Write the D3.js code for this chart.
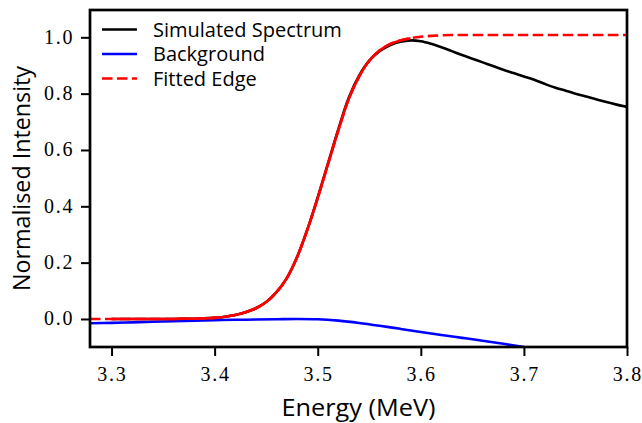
<!DOCTYPE html>
<html><head><meta charset="utf-8">
<script src="https://cdn.jsdelivr.net/npm/d3@7"></script>
<style>body{margin:0;background:#fff}</style>
</head><body><svg id="c" width="642" height="423"></svg>
<script>
// ---- data ----
const edgeE = [3.279,3.29,3.30,3.31,3.32,3.33,3.34,3.35,3.36,3.37,3.38,3.39,3.40,3.41,3.42,3.43,3.44,3.45,3.46,3.47,3.48,3.49,3.50,3.51,3.52,3.53,3.54,3.55,3.56,3.57,3.58,3.59,3.60,3.61,3.62,3.63,3.65,3.70,3.75,3.80];
const edgeV = [0.000,0.000,0.000,0.000,0.000,0.000,0.000,0.000,0.000,0.001,0.001,0.002,0.004,0.008,0.014,0.024,0.038,0.060,0.095,0.145,0.220,0.318,0.430,0.550,0.670,0.780,0.860,0.917,0.953,0.976,0.989,0.997,1.002,1.005,1.007,1.008,1.008,1.008,1.008,1.008];
const fitRange = [3.30, 3.59];
const specE = [3.30,3.31,3.32,3.33,3.34,3.35,3.36,3.37,3.38,3.39,3.40,3.41,3.42,3.43,3.44,3.45,3.46,3.47,3.48,3.49,3.50,3.51,3.52,3.53,3.54,3.55,3.56,3.57,3.58,3.59,3.60,3.61,3.62,3.63,3.64,3.65,3.66,3.67,3.68,3.69,3.70,3.71,3.72,3.73,3.74,3.75,3.76,3.77,3.78,3.79,3.80];
const specV = [0.000,0.000,0.000,0.000,0.000,0.000,0.000,0.001,0.001,0.002,0.004,0.008,0.014,0.024,0.038,0.060,0.095,0.145,0.220,0.318,0.432,0.553,0.674,0.785,0.863,0.917,0.951,0.972,0.984,0.989,0.986,0.977,0.965,0.951,0.937,0.924,0.911,0.898,0.885,0.873,0.861,0.849,0.835,0.822,0.811,0.800,0.790,0.780,0.770,0.761,0.753];
const bgE = [3.279,3.30,3.32,3.34,3.36,3.38,3.40,3.42,3.44,3.46,3.48,3.50,3.52,3.54,3.56,3.58,3.60,3.62,3.64,3.66,3.68,3.70,3.72,3.74];
const bgV = [-0.015,-0.014,-0.012,-0.010,-0.008,-0.006,-0.004,-0.003,-0.002,-0.001,0.000,-0.001,-0.006,-0.014,-0.024,-0.035,-0.046,-0.057,-0.067,-0.077,-0.088,-0.100,-0.112,-0.124];
const xTicks = [3.3,3.4,3.5,3.6,3.7,3.8];
const yTicks = [0.0,0.2,0.4,0.6,0.8,1.0];
const legendLabels = ["Simulated Spectrum","Background","Fitted Edge"];
const xLabel = "Energy (MeV)", yLabel = "Normalised Intensity";

// ---- layout ----
const L=90, R=627, T=10, B=347;
const svg = d3.select("#c");
const x = d3.scaleLinear().domain([3.2791, 3.8]).range([L,R]);
const y = d3.scaleLinear().domain([-0.0995, 1.097]).range([B,T]);

svg.append("clipPath").attr("id","clip").append("rect")
  .attr("x",L).attr("y",T).attr("width",R-L).attr("height",B-T);
const g = svg.append("g").attr("clip-path","url(#clip)");
const line = d3.line().x(d=>x(d[0])).y(d=>y(d[1])).curve(d3.curveCatmullRom.alpha(0.5));
const zip = (a,b)=>a.map((v,i)=>[v,b[i]]);
const LW = 2.6, DASH = "10.5,4.5";

g.append("path").datum(zip(specE,specV)).attr("d",line)
  .attr("fill","none").attr("stroke","#000").attr("stroke-width",LW);
g.append("path").datum(zip(bgE,bgV)).attr("d",line)
  .attr("fill","none").attr("stroke","#0000ff").attr("stroke-width",LW);
const edge = zip(edgeE,edgeV);
g.append("path").datum(edge).attr("d",line)
  .attr("fill","none").attr("stroke","#ff0000").attr("stroke-width",LW).attr("stroke-dasharray",DASH);
g.append("path").datum(edge.filter(d=>d[0]>=fitRange[0]-1e-9 && d[0]<=fitRange[1]+1e-9)).attr("d",line)
  .attr("fill","none").attr("stroke","#ff0000").attr("stroke-width",LW);

// axes (tick marks from d3 axes, labels drawn separately)
const serif = "'Liberation Serif','DejaVu Serif',serif";
const fmt = d3.format(".1f");
const xa = svg.append("g").attr("transform",`translate(0,${B})`)
  .call(d3.axisBottom(x).tickValues(xTicks).tickSize(9).tickFormat(""));
const ya = svg.append("g").attr("transform",`translate(${L},0)`)
  .call(d3.axisLeft(y).tickValues(yTicks).tickSize(9).tickFormat(""));
[xa,ya].forEach(a=>{
  a.select(".domain").remove();
  a.selectAll(".tick line").attr("stroke","#000").attr("stroke-width",2);
});
svg.append("g").selectAll("text").data(xTicks).join("text")
  .attr("x",d=>x(d)).attr("y",381).attr("text-anchor","middle")
  .attr("font-family",serif).attr("font-size",20).attr("fill","#000")
  .attr("textLength",28.5).attr("lengthAdjust","spacing").text(fmt);
svg.append("g").selectAll("text").data(yTicks).join("text")
  .attr("x",72.5).attr("y",d=>y(d)+6.5).attr("text-anchor","end")
  .attr("font-family",serif).attr("font-size",20).attr("fill","#000")
  .attr("textLength",28.5).attr("lengthAdjust","spacing").text(fmt);

svg.append("rect").attr("x",L).attr("y",T).attr("width",R-L).attr("height",B-T)
  .attr("fill","none").attr("stroke","#000").attr("stroke-width",2.7);

const sans = "'Open Sans','DejaVu Sans',sans-serif";
svg.append("text").attr("x",(L+R)/2).attr("y",416).attr("text-anchor","middle")
  .attr("font-family",sans).attr("font-size",23).attr("textLength",154).attr("lengthAdjust","spacingAndGlyphs").text(xLabel);
svg.append("text").attr("transform",`translate(30,${(T+B)/2}) rotate(-90)`).attr("text-anchor","middle")
  .attr("font-family",sans).attr("font-size",23).attr("textLength",225).attr("lengthAdjust","spacingAndGlyphs").text(yLabel);

// legend
const lg = svg.append("g");
const styles = [{c:"#000",d:null},{c:"#0000ff",d:null},{c:"#ff0000",d:DASH}];
legendLabels.forEach((t,i)=>{
  const yy = 29.5 + i*24.5;
  lg.append("line").attr("x1",102).attr("x2",137).attr("y1",yy).attr("y2",yy)
    .attr("stroke",styles[i].c).attr("stroke-width",LW).attr("stroke-dasharray",styles[i].d);
  lg.append("text").attr("x",153).attr("y",yy+7).attr("font-family",sans).attr("font-size",20).text(t);
});
</script></body></html>
